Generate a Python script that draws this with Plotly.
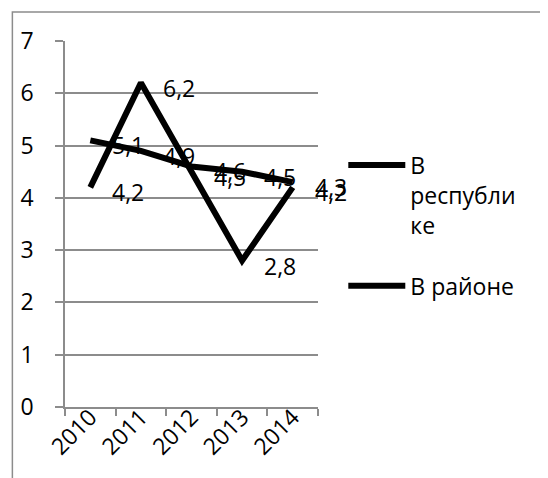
import plotly.graph_objects as go

years = ["2010", "2011", "2012", "2013", "2014"]
respublika = [5.1, 4.9, 4.6, 4.5, 4.3]
rayon = [4.2, 6.2, 4.5, 2.8, 4.2]
names = ["В<br>республи<br>ке", "В районе"]
y_ticks = [0, 1, 2, 3, 4, 5, 6, 7]

FONT = "Open Sans"
FS = 23
fig = go.Figure()
for i, (vals, nm) in enumerate([(respublika, names[0]), (rayon, names[1])]):
    fig.add_trace(go.Scatter(
        x=years, y=vals, mode="lines", name=nm, legendgroup=f"g{i}",
        line=dict(color="black", width=6),
    ))
    for xi, yv in enumerate(vals):
        fig.add_annotation(
            x=xi, y=yv, text=f"{yv:.1f}".replace(".", ","),
            showarrow=False, xanchor="left", yanchor="middle",
            xshift=20, yshift=-5,
            font=dict(family=FONT, size=FS, color="black"),
        )

fig.add_shape(type="rect", xref="paper", yref="paper",
              x0=-0.208, y0=-0.3, x1=2.0, y1=1.079,
              line=dict(color="#8c8c8c", width=1.5), fillcolor="rgba(0,0,0,0)")

fig.update_layout(
    width=540, height=470,
    margin=dict(l=55, r=230, t=33, b=71),
    paper_bgcolor="white", plot_bgcolor="white",
    font=dict(family=FONT, size=FS, color="black"),
    showlegend=True,
    legend=dict(x=1.10, xanchor="left", y=0.72, yanchor="top",
                valign="top", tracegroupgap=28, itemwidth=57,
                font=dict(family=FONT, size=FS, color="black")),
    xaxis=dict(type="category", range=[-0.5, 4.5], tickson="boundaries",
               ticks="outside", ticklen=7, tickcolor="#8c8c8c", tickwidth=1.5,
               showline=True, linecolor="#8c8c8c", linewidth=1.5,
               showgrid=False, tickangle=-45, fixedrange=True,
               ticklabelstandoff=-14),
    yaxis=dict(range=[0, 7], tickvals=y_ticks, ticks="outside", ticklen=8,
               tickcolor="#8c8c8c", tickwidth=1.5,
               showline=True, linecolor="#8c8c8c", linewidth=1.5,
               showgrid=True, gridcolor="#8c8c8c", gridwidth=1.5,
               zeroline=False, ticklabelstandoff=17, fixedrange=True),
)
fig.write_html("out.html")
